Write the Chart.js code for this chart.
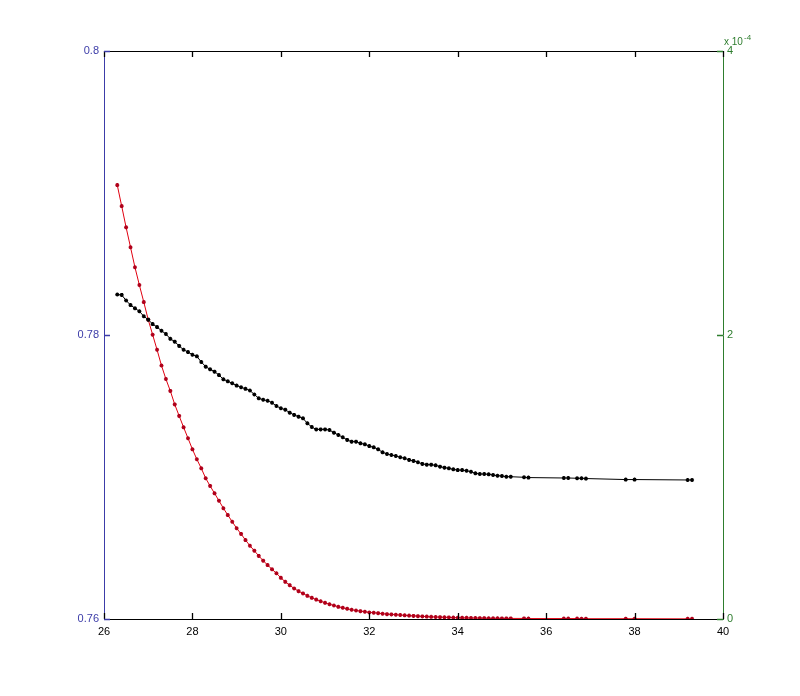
<!DOCTYPE html>
<html>
<head>
<meta charset="utf-8">
<script src="https://cdn.jsdelivr.net/npm/chart.js@4/dist/chart.umd.min.js"></script>
<style>
  body { margin: 0; background: #fff; }
  canvas { display: block; }
</style>
</head>
<body>
<canvas id="grafico" width="800" height="696"></canvas>
<script>
// dados
const xs = [
  26.3, 26.4, 26.5, 26.6, 26.7, 26.8, 26.9, 27.0, 27.1, 27.2,
  27.3, 27.4, 27.5, 27.6, 27.7, 27.8, 27.9, 28.0, 28.1, 28.2,
  28.3, 28.4, 28.5, 28.6, 28.7, 28.8, 28.9, 29.0, 29.1, 29.2,
  29.3, 29.4, 29.5, 29.6, 29.7, 29.8, 29.9, 30.0, 30.1, 30.2,
  30.3, 30.4, 30.5, 30.6, 30.7, 30.8, 30.9, 31.0, 31.1, 31.2,
  31.3, 31.4, 31.5, 31.6, 31.7, 31.8, 31.9, 32.0, 32.1, 32.2,
  32.3, 32.4, 32.5, 32.6, 32.7, 32.8, 32.9, 33.0, 33.1, 33.2,
  33.3, 33.4, 33.5, 33.6, 33.7, 33.8, 33.9, 34.0, 34.1, 34.2,
  34.3, 34.4, 34.5, 34.6, 34.7, 34.8, 34.9, 35.0, 35.1, 35.2,
  35.5, 35.6, 36.4, 36.5, 36.7, 36.8, 36.9, 37.8, 38.0, 39.2, 39.3
];

// eixo da esquerda
const preto = [
  0.78285, 0.78282, 0.78243, 0.78211, 0.78188, 0.78167, 0.78132, 0.78108, 0.78077, 0.78056,
  0.78030, 0.78007, 0.77973, 0.77953, 0.77923, 0.77896, 0.77880, 0.77861, 0.77850, 0.77810,
  0.77777, 0.77758, 0.77742, 0.77718, 0.77688, 0.77674, 0.77660, 0.77644, 0.77632, 0.77621,
  0.77609, 0.77581, 0.77554, 0.77544, 0.77537, 0.77523, 0.77500, 0.77484, 0.77474, 0.77453,
  0.77437, 0.77425, 0.77413, 0.77378, 0.77352, 0.77335, 0.77335, 0.77335, 0.77331, 0.77312,
  0.77296, 0.77280, 0.77261, 0.77249, 0.77249, 0.77237, 0.77230, 0.77218, 0.77209, 0.77195,
  0.77174, 0.77162, 0.77155, 0.77148, 0.77139, 0.77132, 0.77120, 0.77113, 0.77104, 0.77092,
  0.77087, 0.77087, 0.77082, 0.77073, 0.77066, 0.77061, 0.77054, 0.77049, 0.77049, 0.77044,
  0.77037, 0.77026, 0.77021, 0.77021, 0.77019, 0.77014, 0.77009, 0.77007, 0.77002, 0.77002,
  0.76998, 0.76996, 0.76993, 0.76993, 0.76991, 0.76991, 0.76989, 0.76982, 0.76982, 0.76979, 0.76979
];

// eixo da direita (x 10^-4)
const vermelho = [
  3.056, 2.908, 2.758, 2.618, 2.477, 2.352, 2.232, 2.108, 2.002, 1.896,
  1.785, 1.690, 1.606, 1.511, 1.430, 1.350, 1.273, 1.195, 1.125, 1.061,
  0.991, 0.937, 0.885, 0.833, 0.780, 0.732, 0.685, 0.639, 0.599, 0.556,
  0.516, 0.481, 0.444, 0.411, 0.380, 0.350, 0.322, 0.290, 0.262, 0.238,
  0.215, 0.196, 0.180, 0.163, 0.149, 0.137, 0.125, 0.114, 0.104, 0.095,
  0.086, 0.079, 0.072, 0.065, 0.060, 0.055, 0.051, 0.046, 0.044, 0.041,
  0.037, 0.034, 0.032, 0.030, 0.028, 0.026, 0.024, 0.022, 0.020, 0.018,
  0.017, 0.015, 0.014, 0.013, 0.012, 0.011, 0.010, 0.009, 0.008, 0.008,
  0.007, 0.007, 0.006, 0.006, 0.005, 0.005, 0.005, 0.004, 0.004, 0.004,
  0.004, 0.003, 0.003, 0.003, 0.003, 0.002, 0.002, 0.002, 0.002, 0.001, 0.001
];

const xTicks = [26, 28, 30, 32, 34, 36, 38, 40];
const yEsqTicks = [0.76, 0.78, 0.8];
const yDirTicks = [0, 2, 4];
//

const azul = '#3c3ca8';
const verde = '#2e7d2e';
const fonte = { family: 'Liberation Sans, Arial, sans-serif', size: 11 };

const largura = (w) => (scale) => { scale.width = w; };
const altura = (h) => (scale) => { scale.height = h; };

// tracinhos para dentro (estilo matlab) + expoente do eixo da direita
function tracinhos(c, escala, cor, vertical, base, sentido) {
  c.strokeStyle = cor;
  c.lineWidth = 1.3;
  c.beginPath();
  escala.ticks.forEach(tk => {
    const p = Math.round(escala.getPixelForValue(tk.value)) + 0.5;
    if (vertical) { c.moveTo(p, base); c.lineTo(p, base + 6 * sentido); }
    else { c.moveTo(base, p); c.lineTo(base + 6 * sentido, p); }
  });
  c.stroke();
}

const tracos = {
  id: 'tracos',
  afterDraw(chart) {
    const c = chart.ctx;
    const a = chart.chartArea;
    c.save();
    tracinhos(c, chart.scales.x, '#000', true, a.bottom, -1);
    tracinhos(c, chart.scales.x, '#000', true, a.top, 1);
    tracinhos(c, chart.scales.y, azul, false, a.left, 1);
    tracinhos(c, chart.scales.y1, verde, false, a.right, -1);

    const s = chart.scales.y1;
    c.fillStyle = verde;
    c.font = '10px Liberation Sans, Arial, sans-serif';
    c.textBaseline = 'alphabetic';
    c.fillText('x 10', s.left + 1, s.top - 6);
    c.font = '8px Liberation Sans, Arial, sans-serif';
    c.fillText('-4', s.left + 21, s.top - 11);
    c.restore();
  }
};

let linha = document.getElementById('grafico').getContext('2d');
let graf = new Chart(linha, {
  type: 'line',
  data: {
    datasets: [{
      label: 'esquerda',
      data: xs.map((x, i) => ({ x: x, y: preto[i] })),
      yAxisID: 'y',
      borderColor: '#000',
      backgroundColor: '#000',
      borderWidth: 1,
      pointStyle: 'star',
      pointRadius: 2,
      pointBorderWidth: 1.2,
      pointBorderColor: '#000',
      tension: 0
    }, {
      label: 'direita',
      data: xs.map((x, i) => ({ x: x, y: vermelho[i] })),
      yAxisID: 'y1',
      borderColor: '#e00010',
      backgroundColor: '#b0001a',
      borderWidth: 1,
      pointStyle: 'star',
      pointRadius: 2,
      pointBorderWidth: 1.2,
      pointBorderColor: '#b0001a',
      tension: 0
    }]
  },
  options: {
    responsive: false,
    animation: false,
    devicePixelRatio: 1,
    layout: { padding: { left: 44, right: 27, top: 46, bottom: 47 } },
    plugins: { legend: { display: false }, tooltip: { enabled: false } },
    scales: {
      x: {
        type: 'linear', position: 'bottom', min: 26, max: 40,
        afterFit: altura(30),
        afterBuildTicks: (s) => { s.ticks = xTicks.map(v => ({ value: v })); },
        border: { color: '#000', width: 1 },
        grid: { drawOnChartArea: false, drawTicks: false },
        ticks: { color: '#000', font: fonte, padding: 6, maxRotation: 0 }
      },
      x2: {
        type: 'linear', position: 'top', min: 26, max: 40,
        afterFit: altura(5),
        border: { color: '#000', width: 1 },
        grid: { display: false },
        ticks: { display: false }
      },
      y: {
        type: 'linear', position: 'left', min: 0.76, max: 0.8,
        afterFit: largura(60),
        afterBuildTicks: (s) => { s.ticks = yEsqTicks.map(v => ({ value: v })); },
        border: { color: azul, width: 1 },
        grid: { drawOnChartArea: false, drawTicks: false },
        ticks: { color: azul, font: fonte, padding: 5, callback: (v) => String(Math.round(v * 100) / 100) }
      },
      y1: {
        type: 'linear', position: 'right', min: 0, max: 4,
        afterFit: largura(50),
        afterBuildTicks: (s) => { s.ticks = yDirTicks.map(v => ({ value: v })); },
        border: { color: verde, width: 1 },
        grid: { drawOnChartArea: false, drawTicks: false },
        ticks: { color: verde, font: fonte, padding: 4, callback: (v) => String(v) }
      }
    }
  },
  plugins: [tracos]
});
//
</script>
</body>
</html>
